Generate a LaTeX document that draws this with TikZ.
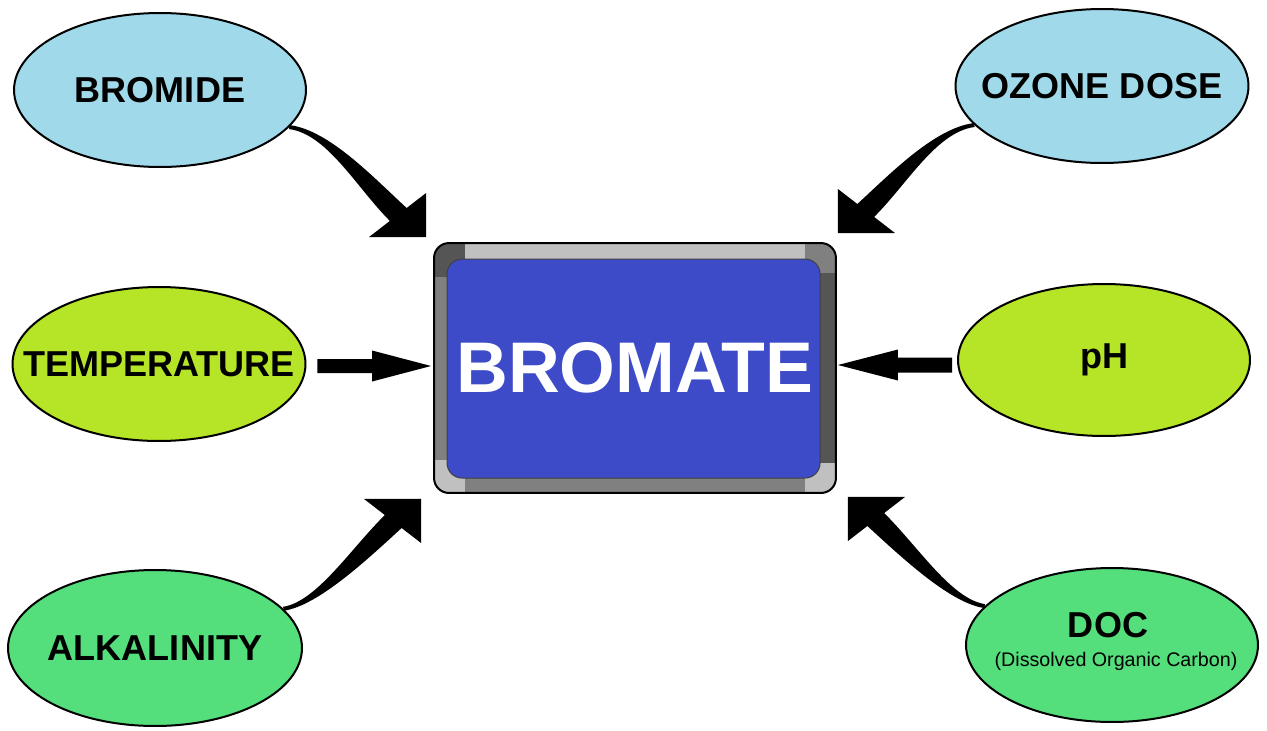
\documentclass[tikz,border=0pt]{standalone}
\usepackage{fontspec}
\setmainfont{Liberation Sans}
\usetikzlibrary{shapes.geometric,calc}
\definecolor{ellblue}{RGB}{160,217,234}
\definecolor{ellyellow}{RGB}{182,228,38}
\definecolor{ellgreen}{RGB}{84,222,124}
\definecolor{boxblue}{RGB}{61,75,200}
\definecolor{fdark}{RGB}{85,85,85}
\definecolor{fmid}{RGB}{128,128,128}
\definecolor{flight}{RGB}{192,192,192}
% tapered curved shaft: start, control1, control2, end, half width at start, half width at end
\newcommand\taperarrow[6]{%
  \fill ($(#1)!#5!90:(#2)$) .. controls ($(#2)!#5!-90:(#1)$) and ($(#3)!#6!90:(#4)$) .. ($(#4)!#6!-90:(#3)$)
    -- ($(#4)!#6!90:(#3)$) .. controls ($(#3)!#6!-90:(#4)$) and ($(#2)!#5!90:(#1)$) .. ($(#1)!#5!-90:(#2)$) -- cycle;}
\newcommand\zbox[1]{\makebox[0pt]{#1}}
\begin{document}
\begin{tikzpicture}[x=0.02cm,y=-0.02cm,
  ell/.style={ellipse, draw=black, line width=0.04cm, inner sep=0pt,
    font=\fontsize{20.5}{24}\selectfont\bfseries},
  bromatebox/.style={rectangle, rounded corners=0.3cm, draw=black, line width=0.04cm,
    inner sep=0pt, minimum width=8.04cm, minimum height=5cm, text=white,
    font=\fontsize{40.8}{48}\selectfont\bfseries,
    path picture={
      \coordinate (nw) at (path picture bounding box.north west);
      \fill[fdark, sharp corners] (nw) rectangle ($(nw)+(31,34)$);
      \fill[flight, sharp corners] ($(nw)+(31,0)$) rectangle ($(nw)+(371,16)$);
      \fill[fmid, sharp corners] ($(nw)+(371,0)$) rectangle ($(nw)+(402,30)$);
      \fill[fdark, sharp corners] ($(nw)+(386,30)$) rectangle ($(nw)+(402,220)$);
      \fill[flight, sharp corners] ($(nw)+(371,220)$) rectangle ($(nw)+(402,250)$);
      \fill[fmid, sharp corners] ($(nw)+(31,235)$) rectangle ($(nw)+(371,250)$);
      \fill[flight, sharp corners] ($(nw)+(0,217)$) rectangle ($(nw)+(31,250)$);
      \fill[fmid, sharp corners] ($(nw)+(0,34)$) rectangle ($(nw)+(13,217)$);
      \filldraw[fill=boxblue, draw=black!75, line width=0.02cm, rounded corners=0.3cm]
        ($(nw)+(13,16)$) rectangle ($(nw)+(386,235)$);
    }},
  subtext/.style={inner sep=0pt, font=\fontsize{11.2}{13}\selectfont},
  doctext/.style={inner sep=0pt, font=\fontsize{20.5}{24}\selectfont\bfseries}
]
\useasboundingbox[fill=white] (0,0) rectangle (1267,730);

% centre box
\node[bromatebox] (bromate) at (635,368) {BROMATE};

% factor ellipses
\node[ell, fill=ellblue, minimum width=5.84cm, minimum height=3.08cm] (bromide) at (160,90) {\zbox{BROMIDE}};
\node[ell, fill=ellblue, minimum width=5.86cm, minimum height=3.08cm] (ozone) at (1102,86) {\zbox{OZONE DOSE}};
\node[ell, fill=ellyellow, minimum width=5.86cm, minimum height=3.08cm] (temp) at (159,364) {\zbox{TEMPERATURE}};
\node[ell, fill=ellyellow, minimum width=5.84cm, minimum height=3.04cm] (ph) at (1104,360) {\zbox{pH}};
\node[ell, fill=ellgreen, minimum width=5.88cm, minimum height=3.12cm] (alk) at (155,648) {\zbox{ALKALINITY}};
\node[ell, fill=ellgreen, minimum width=5.84cm, minimum height=3.08cm] (doc) at (1112,645) {};
\node[doctext] (doct) at ($(doc.center)+(-4,-20)$) {DOC};
\node[subtext] (docs) at ($(doc.center)+(4,16)$) {(Dissolved Organic Carbon)};

% straight arrows
\coordinate (ta) at ($(temp.east)+(11,2)$);
\coordinate (tt) at ($(bromate.west)+(-2,-2)$);
\fill ($(ta)+(0,-7)$) -- ($(tt)+(-59,-7)$) -- ($(tt)+(-59,-15.5)$) -- (tt)
  -- ($(tt)+(-59,15.5)$) -- ($(tt)+(-59,7)$) -- ($(ta)+(0,7)$) -- cycle;
\coordinate (pa) at ($(ph.west)+(-5,5)$);
\coordinate (pt) at ($(bromate.east)+(1,-3)$);
\fill ($(pa)+(0,-7.5)$) -- ($(pt)+(60,-7.5)$) -- ($(pt)+(60,-15.5)$) -- (pt)
  -- ($(pt)+(60,15.5)$) -- ($(pt)+(60,7.5)$) -- ($(pa)+(0,7.5)$) -- cycle;

% curved arrows
% bromide
\coordinate (s1) at (bromide.-16);
\coordinate (c1a) at ($(s1)+(40,5)$);
\coordinate (t1) at ($(bromate.north west)+(-7,-5)$);
\coordinate (e1) at ($(t1)+(-24,-19)$);
\coordinate (c1b) at ($(e1)+(-35,-32)$);
\taperarrow{s1}{c1a}{c1b}{e1}{0.04cm}{0.21cm}
\fill (t1) -- ($(t1)+(-57,0)$) -- ($(t1)+(0,-44)$) -- cycle;
% ozone dose
\coordinate (s2) at (ozone.197);
\coordinate (c2a) at ($(s2)+(-40,5)$);
\coordinate (t2) at ($(bromate.north east)+(1,-9)$);
\coordinate (e2) at ($(t2)+(24,-19)$);
\coordinate (c2b) at ($(e2)+(35,-32)$);
\taperarrow{s2}{c2a}{c2b}{e2}{0.04cm}{0.21cm}
\fill (t2) -- ($(t2)+(57,0)$) -- ($(t2)+(0,-44)$) -- cycle;
% alkalinity
\coordinate (s3) at (alk.17);
\coordinate (c3a) at ($(s3)+(35,-5)$);
\coordinate (t3) at ($(bromate.south west)+(-12,5)$);
\coordinate (e3) at ($(t3)+(-24,19)$);
\coordinate (c3b) at ($(e3)+(-35,32)$);
\taperarrow{s3}{c3a}{c3b}{e3}{0.04cm}{0.21cm}
\fill (t3) -- ($(t3)+(-57,0)$) -- ($(t3)+(0,44)$) -- cycle;
% doc
\coordinate (s4) at (doc.163);
\coordinate (c4a) at ($(s4)+(-35,-5)$);
\coordinate (t4) at ($(bromate.south east)+(11,3)$);
\coordinate (e4) at ($(t4)+(24,19)$);
\coordinate (c4b) at ($(e4)+(35,32)$);
\taperarrow{s4}{c4a}{c4b}{e4}{0.04cm}{0.21cm}
\fill (t4) -- ($(t4)+(57,0)$) -- ($(t4)+(0,44)$) -- cycle;
\end{tikzpicture}
\end{document}
